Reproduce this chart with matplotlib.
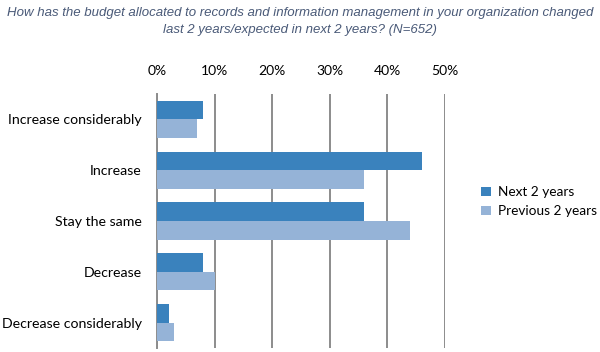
import matplotlib.pyplot as plt
import numpy as np

categories = ['Increase considerably', 'Increase', 'Stay the same', 'Decrease', 'Decrease considerably']
next_2 = [8, 46, 36, 8, 2]
prev_2 = [7, 36, 44, 10, 3]
ticks = [0, 10, 20, 30, 40, 50]
tick_labels = ['0%', '10%', '20%', '30%', '40%', '50%']

dark = '#3a82bd'
light = '#95b3d7'
grid_c = '#8c8c8c'

fig = plt.figure(figsize=(6, 3.52), dpi=100)
ax = fig.add_axes([0.2617, 0.0114, 0.4795, 0.7216])

y = np.arange(len(categories))
h = 0.365
ax.barh(y - h / 2, next_2, height=h, color=dark, label='Next 2 years', zorder=3)
ax.barh(y + h / 2, prev_2, height=h, color=light, label='Previous 2 years', zorder=3)

ax.set_xlim(0, 50)
ax.set_ylim(4.5, -0.5)
ax.set_xticks(ticks)
ax.set_xticklabels(tick_labels, fontfamily='Lato', fontsize=10)
ax.xaxis.tick_top()
ax.tick_params(axis='x', length=0, pad=12)
ax.set_yticks(y)
ax.set_yticklabels(categories, fontfamily='Lato', fontsize=10.2)
ax.tick_params(axis='y', length=0, pad=11)
ax.grid(axis='x', color=grid_c, linewidth=1.4, zorder=0)
for s in ['top', 'right', 'bottom']:
    ax.spines[s].set_visible(False)
ax.spines['left'].set_color(grid_c)
ax.spines['left'].set_linewidth(1.4)

fig.text(0.5, 0.98, 'How has the budget allocated to records and information management in your organization changed\nlast 2 years/expected in next 2 years? (N=652)',
         ha='center', va='top', fontsize=9.5, style='italic', color='#4a5a78',
         fontfamily='Liberation Sans', linespacing=1.5)

leg = fig.legend(loc='center left', bbox_to_anchor=(0.782, 0.427), frameon=False,
                 prop={'family': 'Lato', 'size': 9.8}, handlelength=0.7, handleheight=0.7,
                 handletextpad=0.5, labelspacing=0.5)

plt.savefig('out.png', dpi=100)
